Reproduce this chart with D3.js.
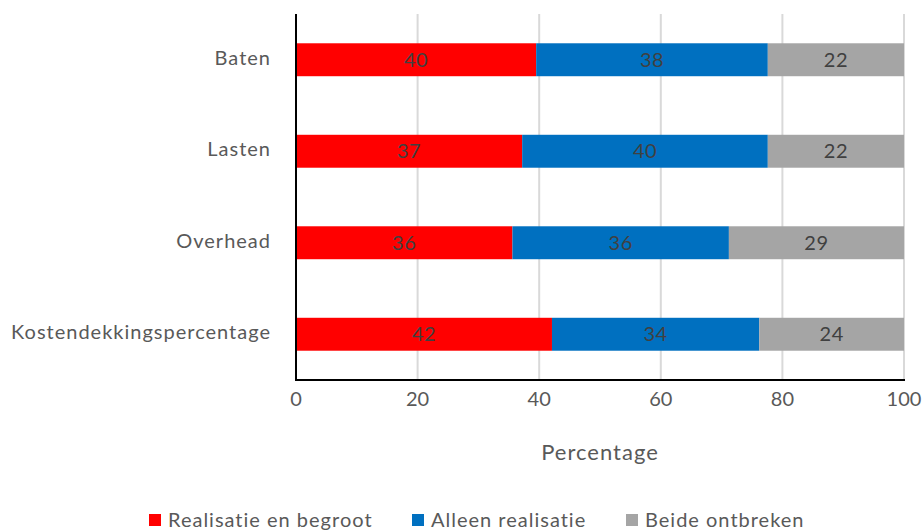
<!DOCTYPE html>
<html><head><meta charset="utf-8">
<script src="https://cdn.jsdelivr.net/npm/d3@7"></script>
<style>body{margin:0;background:#fff}svg{display:block}text{font-family:Lato,"Open Sans",sans-serif}</style>
</head><body><svg id="c" width="924" height="532"></svg>
<script>
const categories = ["Baten","Lasten","Overhead","Kostendekkingspercentage"];
const seriesNames = ["Realisatie en begroot","Alleen realisatie","Beide ontbreken"];
const realisatieEnBegroot = [39.5, 37.2, 35.6, 42.1];
const alleenRealisatie = [38.1, 40.4, 35.6, 34.1];
const beideOntbreken = [22.4, 22.4, 28.8, 23.8];
const xTicks = [0,20,40,60,80,100];
const colors = ["#ff0000","#0070c0","#a5a5a5"];

const svg = d3.select("#c");
const L=296, R=904, T=14, B=380;
const x = d3.scaleLinear().domain([0,100]).range([L,R]);
const y = d3.scaleBand().domain(categories).range([T,B]).paddingInner(0.64).paddingOuter(0.32);

svg.append("g").selectAll("line").data(xTicks.filter(d=>d>0)).join("line")
  .attr("x1",d=>x(d)).attr("x2",d=>x(d)).attr("y1",T).attr("y2",B)
  .attr("stroke","#d9d9d9").attr("stroke-width",2);

const rows = categories.map((c,i)=>({cat:c, vals:[realisatieEnBegroot[i],alleenRealisatie[i],beideOntbreken[i]]}));
const stack = d3.stack().keys([0,1,2]).value((d,k)=>d.vals[k]);
const stacked = stack(rows);

const g = svg.append("g");
stacked.forEach((s,si)=>{
  g.append("g").selectAll("rect").data(s).join("rect")
    .attr("x",d=>x(d[0])).attr("width",d=>x(d[1])-x(d[0]))
    .attr("y",d=>y(d.data.cat)).attr("height",y.bandwidth())
    .attr("fill",colors[si]);
  g.append("g").selectAll("text").data(s).join("text")
    .attr("x",d=>(x(d[0])+x(d[1]))/2).attr("y",d=>y(d.data.cat)+y.bandwidth()/2)
    .attr("dy","0.36em").attr("text-anchor","middle")
    .attr("font-size",20).attr("letter-spacing",0.5).attr("fill","#404040")
    .text(d=>Math.round(d.data.vals[si]));
});

svg.append("line").attr("x1",L).attr("x2",L).attr("y1",T).attr("y2",B+1).attr("stroke","#000").attr("stroke-width",2);
svg.append("line").attr("x1",L-1).attr("x2",R+1).attr("y1",B).attr("y2",B).attr("stroke","#000").attr("stroke-width",2);

svg.append("g").selectAll("text").data(xTicks).join("text")
  .attr("x",d=>x(d)).attr("y",B+19).attr("dy","0.36em").attr("text-anchor","middle")
  .attr("font-size",20).attr("fill","#595959").text(d=>d);

svg.append("g").selectAll("text").data(categories).join("text")
  .attr("x",L-25).attr("y",d=>y(d)+y.bandwidth()/2-2).attr("dy","0.36em").attr("text-anchor","end")
  .attr("font-size",20).attr("letter-spacing",1).attr("fill","#595959").text(d=>d);

svg.append("text").attr("x",x(50)).attr("y",452).attr("dy","0.36em").attr("text-anchor","middle")
  .attr("font-size",22).attr("letter-spacing",1).attr("fill","#595959").text("Percentage");

const legX=[149,412,626];
const lg = svg.append("g").selectAll("g").data(seriesNames).join("g")
  .attr("transform",(d,i)=>`translate(${legX[i]},520)`);
lg.append("rect").attr("x",0).attr("y",-6).attr("width",12).attr("height",12).attr("fill",(d,i)=>colors[i]);
lg.append("text").attr("x",19).attr("y",0).attr("dy","0.36em").attr("font-size",20).attr("letter-spacing",1).attr("fill","#595959").text(d=>d);
</script></body></html>
